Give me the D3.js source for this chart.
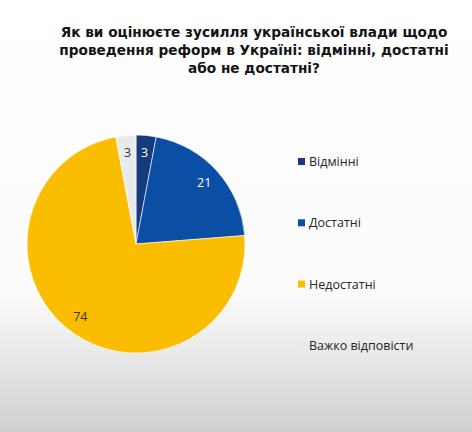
<!DOCTYPE html>
<html>
<head>
<meta charset="utf-8">
<script src="https://cdn.jsdelivr.net/npm/d3@7"></script>
<style>
  html, body { margin: 0; padding: 0; }
  svg { display: block; }
</style>
</head>
<body>
<svg id="chart" width="472" height="432"></svg>
<script>
// survey answers, clockwise from 12 o'clock
const categories = ['Відмінні', 'Достатні', 'Недостатні', 'Важко відповісти']
const values = [3, 21, 74, 3]
const colors = ['#163b7c', '#0b4ea5', '#fbbd00', '#e8ebec']
const labelColors = ['#ffffff', '#ffffff', '#333333', '#333333']
const titleLines = [
  'Як ви оцінюєте зусилля української влади щодо',
  'проведення реформ в Україні: відмінні, достатні',
  'або не достатні?'
]

const width = 472
const height = 432
const svg = d3.select('#chart')

// white page fading to grey at the bottom
const defs = svg.append('defs')
const grad = defs.append('linearGradient')
  .attr('id', 'bg').attr('x1', 0).attr('y1', 0).attr('x2', 0).attr('y2', 1)
grad.append('stop').attr('offset', '0%').attr('stop-color', '#ffffff')
grad.append('stop').attr('offset', '68%').attr('stop-color', '#fbfbfb')
grad.append('stop').attr('offset', '100%').attr('stop-color', '#d0d0d0')
svg.append('rect').attr('width', width).attr('height', height).attr('fill', 'url(#bg)')

// title
const title = svg.append('text')
  .attr('text-anchor', 'middle')
  .attr('font-family', 'DejaVu Sans, Verdana, sans-serif')
  .attr('font-weight', 'bold')
  .attr('font-size', 13)
  .attr('fill', '#141414')
title.selectAll('tspan')
  .data(titleLines)
  .join('tspan')
  .attr('x', 254)
  .attr('y', (d, i) => 37 + i * 18)
  .text(d => d)
// fit the first line to its width in the picture
const firstLen = title.select('tspan').node().getComputedTextLength()
title.attr('font-size', 13 * 387 / firstLen)

// pie
const cx = 136
const cy = 244
const radius = 109
const pie = d3.pie().sort(null).value(d => d)
const arcs = pie(values)
const arc = d3.arc().innerRadius(0).outerRadius(radius)
const labelArc = d3.arc().innerRadius(radius * 0.84).outerRadius(radius * 0.84)

const g = svg.append('g').attr('transform', `translate(${cx},${cy})`)
g.selectAll('path')
  .data(arcs)
  .join('path')
  .attr('d', arc)
  .attr('fill', (d, i) => colors[i])
  .attr('stroke', '#ffffff')
  .attr('stroke-width', 0.6)

g.selectAll('text')
  .data(arcs)
  .join('text')
  .attr('transform', d => `translate(${labelArc.centroid(d)})`)
  .attr('text-anchor', 'middle')
  .attr('dy', '0.35em')
  .attr('font-family', 'Open Sans, sans-serif')
  .attr('font-size', 12.5)
  .attr('fill', (d, i) => labelColors[i])
  .text(d => d.data)

// legend
const legend = svg.append('g')
  .selectAll('g')
  .data(categories)
  .join('g')
  .attr('transform', (d, i) => `translate(298,${158 + i * 61.3})`)
legend.append('rect')
  .attr('width', 7).attr('height', 7)
  .attr('fill', (d, i) => colors[i])
legend.append('text')
  .attr('x', 11)
  .attr('y', 8)
  .attr('font-family', 'Open Sans, sans-serif')
  .attr('font-size', 12.5)
  .attr('fill', '#262626')
  .text(d => d)
</script>
</body>
</html>
